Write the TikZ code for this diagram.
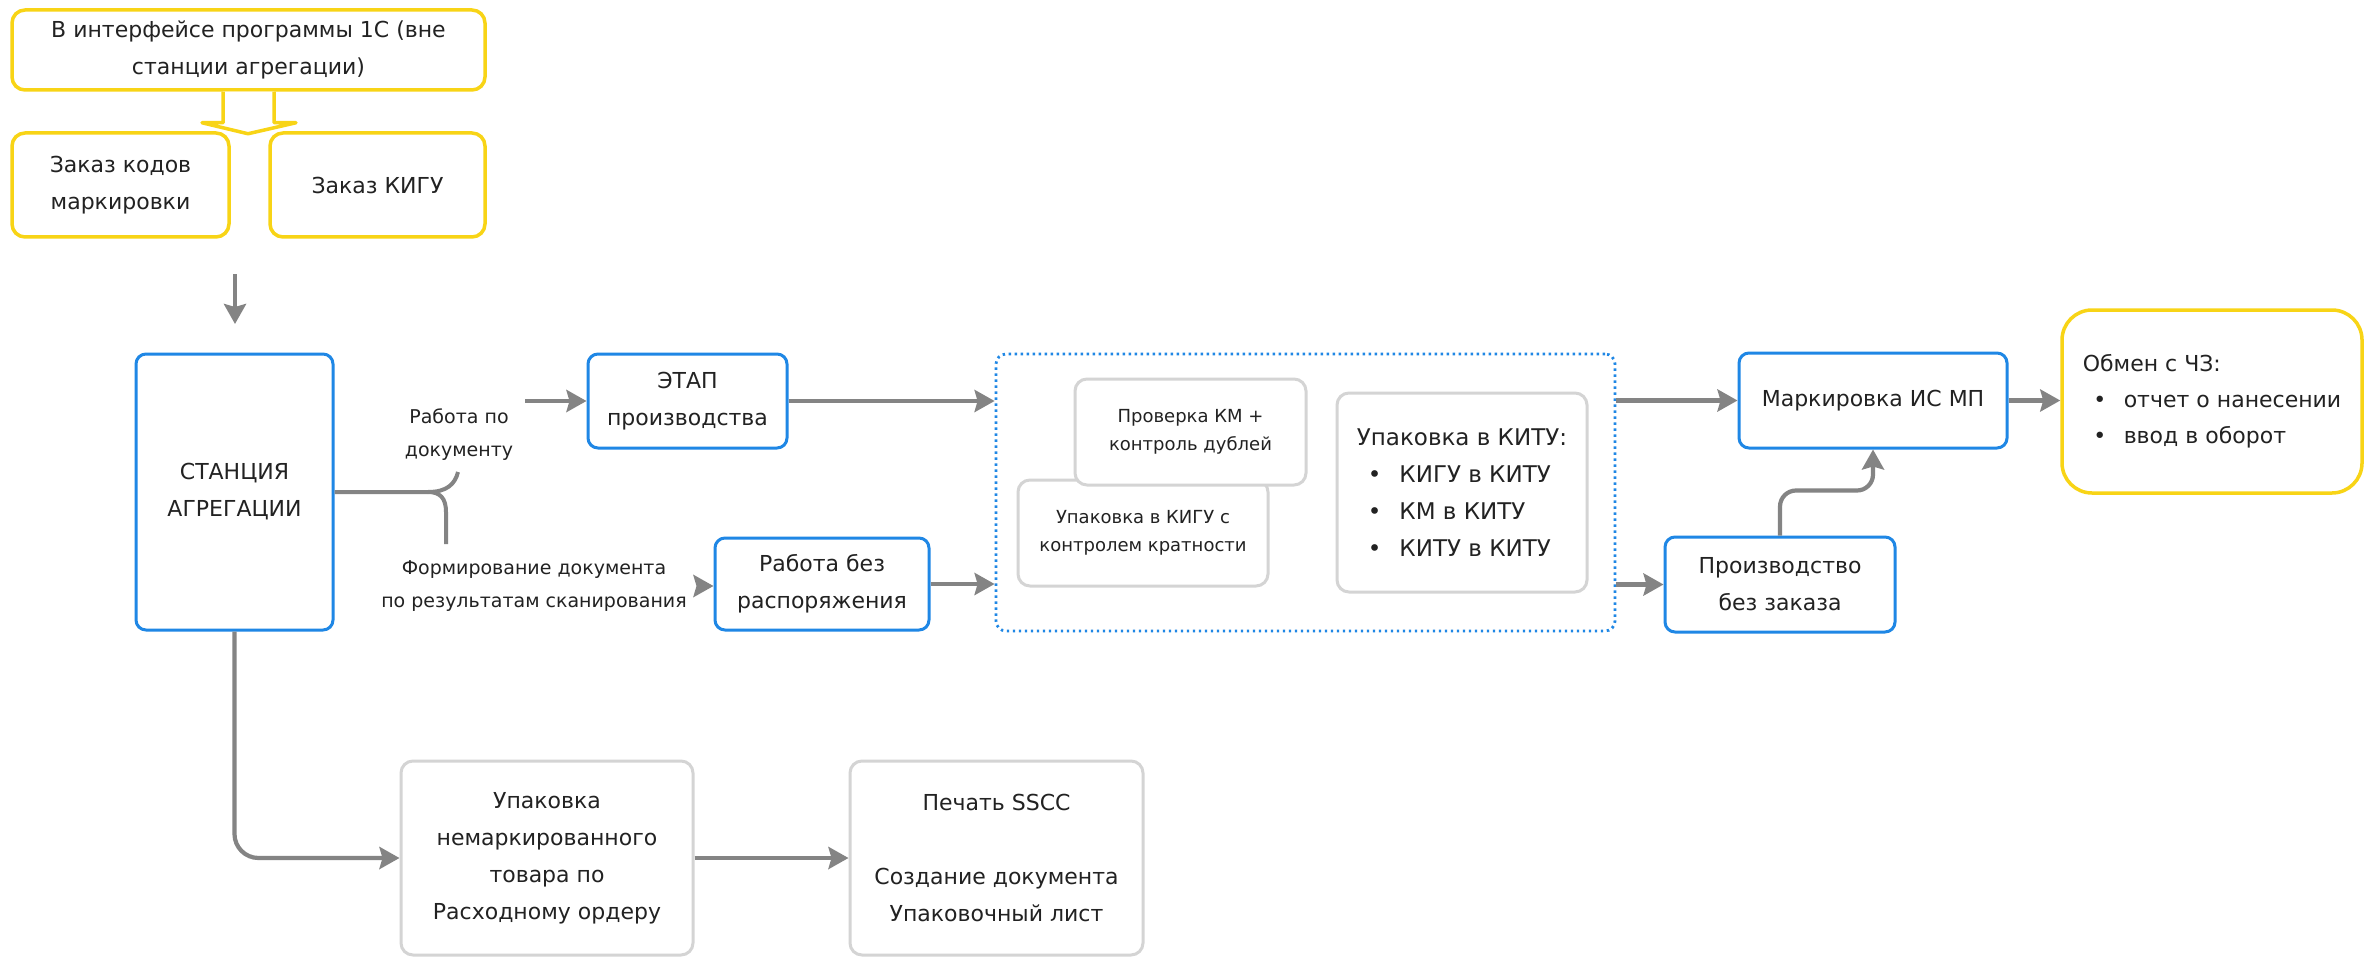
\documentclass[tikz,border=0pt]{standalone}
\usepackage{fontspec}
\setmainfont{DejaVu Sans}
\usetikzlibrary{arrows.meta}
\definecolor{zhelt}{HTML}{F8D416}
\definecolor{sin}{HTML}{1F87E5}
\definecolor{ser}{HTML}{D4D4D4}
\definecolor{strel}{HTML}{848484}
\definecolor{tekst}{HTML}{222222}
\tikzset{
  blok/.style={draw, line width=1.5pt, rounded corners=5pt, fill=white, inner sep=0pt,
    align=center, text=tekst, font=\fontsize{11}{18.5}\selectfont},
  yblok/.style={blok, draw=zhelt, line width=1.75pt, rounded corners=6.5pt},
  bblok/.style={blok, draw=sin},
  gblok/.style={blok, draw=ser, rounded corners=6pt},
  melk/.style={font=\fontsize{9}{14}\selectfont},
  podpis/.style={text=tekst, align=center, font=\fontsize{9.5}{16.5}\selectfont},
  arr/.style={draw=strel, line width=2.1pt, -{Stealth[length=10pt, width=11pt, inset=1.5pt]}},
  liniya/.style={draw=strel, line width=2pt},
}

\begin{document}
\begin{tikzpicture}[x=0.5pt, y=-0.5pt]
      \useasboundingbox[fill=white] (0,0) rectangle (2364,957);

      % 1C
      \node[yblok, minimum width=236.5pt, minimum height=40pt] (ifc) at (248.5,50) {В интерфейсе программы 1С (вне\\станции агрегации)};
      \node[yblok, minimum width=108.5pt, minimum height=52pt] (kody) at (120.5,185) {Заказ кодов\\маркировки};
      \node[yblok, minimum width=107.5pt, minimum height=52pt] (kigu) at (377.5,185) {Заказ КИГУ};
      \draw[zhelt, line width=1.75pt, line join=round, fill=white] ([xshift=-12.75pt]ifc.south) -- ++(0,31) -- ++(-21,0) -- ++(46,11) -- ++(48,-11) -- ++(-22,0) -- ++(0,-31);
      \coordinate (z1) at (235,274);
      \coordinate (z2) at (235,324);
      \draw[arr] (z1) -- (z2);

      % stanciya
      \node[bblok, minimum width=98.5pt, minimum height=138pt] (stan) at (234.5,492) {СТАНЦИЯ\\АГРЕГАЦИИ};
      \node[bblok, minimum width=99.5pt, minimum height=47pt] (etap) at (687.5,401) {ЭТАП\\производства};
      \node[bblok, minimum width=107pt, minimum height=46pt] (bezr) at (822,584) {Работа без\\распоряжения};
      \node[podpis] (podok) at (459,435) {Работа по\\документу};
      \node[podpis, inner sep=5pt] (formir) at (534,586) {Формирование документа\\по результатам сканирования};
      \coordinate (vilka) at (428,492);
      \coordinate (vverh) at (458,472);
      \coordinate (vniz) at (446,544);
      \draw[liniya] (stan.east |- vilka) -- (vilka) .. controls (447,492) and (455,484) .. (vverh);
      \draw[liniya] (vilka) .. controls (440,492) and (446,498) .. (446,512) -- (vniz);
      \coordinate (k_etap) at (525,401);
      \draw[arr] (k_etap) -- (etap.west);
      \draw[arr] (formir.east) -- (formir.east -| bezr.west);

      % gruppa
      \node[draw=sin, line width=1.4pt, dash pattern=on 1.2pt off 1.8pt, rounded corners=5pt, minimum width=309.5pt, minimum height=138.5pt] (gruppa) at (1305.5,492.5) {};
      \node[gblok, melk, minimum width=125pt, minimum height=53pt] (kigu2) at (1143,533) {Упаковка в КИГУ с\\контролем кратности};
      \node[gblok, melk, minimum width=115.5pt, minimum height=53pt] (prov) at (1190.5,432) {Проверка КМ +\\контроль дублей};
      \node[gblok, minimum width=125pt, minimum height=99.5pt, align=left, font=\fontsize{11.5}{18.5}\selectfont] (kitu) at (1462,492.5) {Упаковка в КИТУ:\\\hspace*{5.5pt}•\hspace{9pt}КИГУ в КИТУ\\\hspace*{5.5pt}•\hspace{9pt}КМ в КИТУ\\\hspace*{5.5pt}•\hspace{9pt}КИТУ в КИТУ};
      \draw[arr] (etap.east) -- (etap.east -| gruppa.west);
      \draw[arr] (bezr.east) -- (bezr.east -| gruppa.west);

      % IS MP
      \node[bblok, minimum width=134pt, minimum height=47.5pt] (mark) at (1873,400.5) {Маркировка ИС МП};
      \node[bblok, minimum width=115pt, minimum height=47.5pt] (proizv) at (1780,584.5) {Производство\\без заказа};
      \node[yblok, rounded corners=15pt, minimum width=150pt, minimum height=91.5pt, align=left, font=\fontsize{11}{18}\selectfont] (obmen) at (2212,401.5) {Обмен с ЧЗ:\\\hspace*{5.25pt}•\hspace{8.75pt}отчет о нанесении\\\hspace*{5.25pt}•\hspace{8.75pt}ввод в оборот};
      \draw[arr] (mark.west -| gruppa.east) -- (mark.west);
      \draw[arr] (proizv.west -| gruppa.east) -- (proizv.west);
      \draw[arr] (mark.east) -- (mark.east -| obmen.west);
      \draw[arr, rounded corners=8pt] (proizv.north) -- ++(0,-45) -| (mark.south);

      % bez markirovki
      \node[gblok, minimum width=146pt, minimum height=97pt] (nemark) at (547,858) {Упаковка\\немаркированного\\товара по\\Расходному ордеру};
      \node[gblok, minimum width=146.5pt, minimum height=97pt] (sscc) at (996.5,858) {Печать SSCC\\[18.5pt]Создание документа\\Упаковочный лист};
      \draw[arr, rounded corners=12pt] (stan.south) |- (nemark.west);
      \draw[arr] (nemark) -- (sscc);
\end{tikzpicture}
\end{document}
